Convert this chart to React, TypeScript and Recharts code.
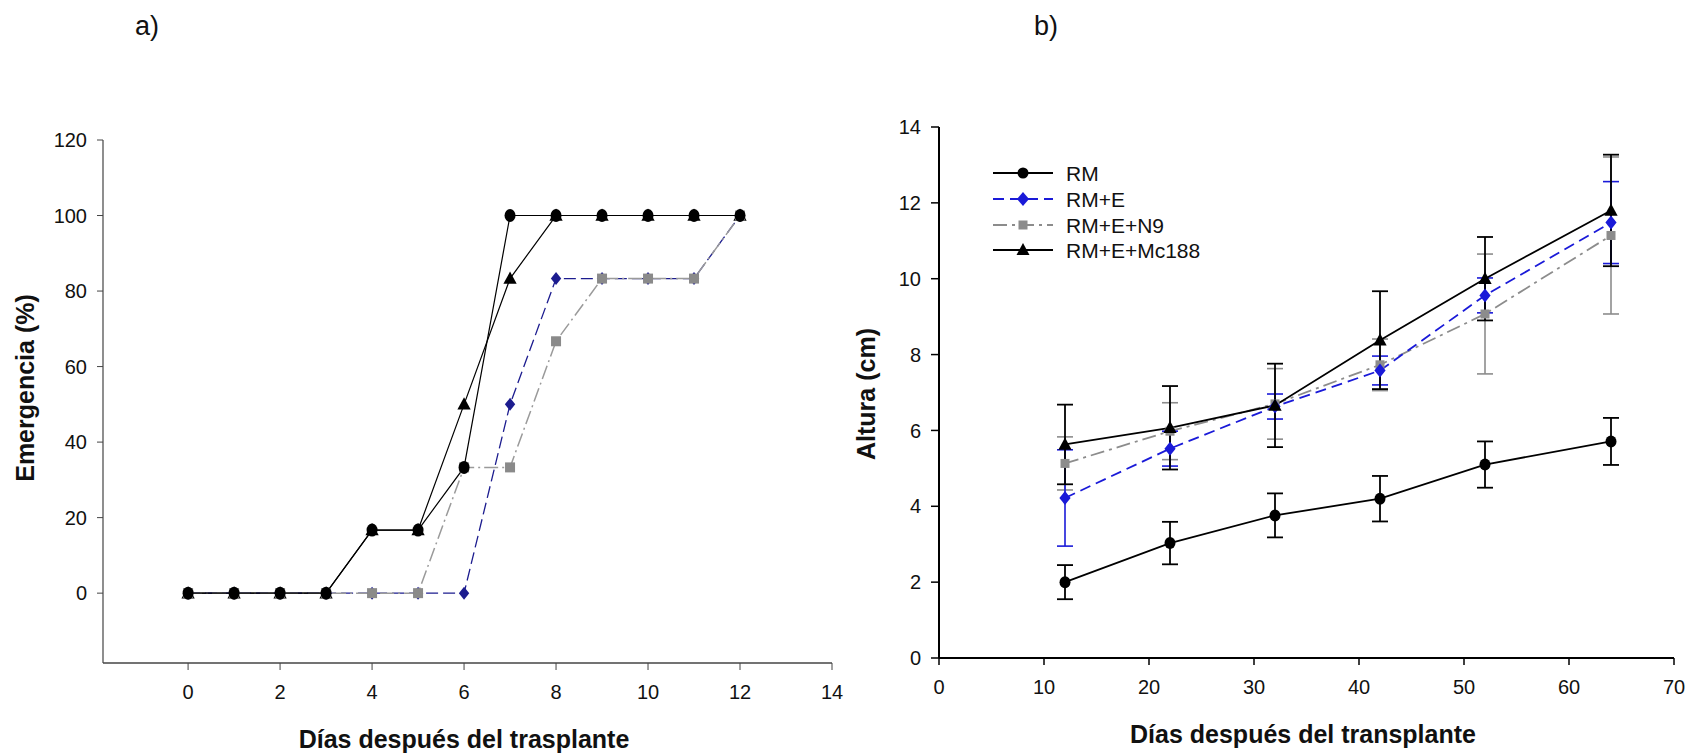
import React from 'react'
import { LineChart, Line, XAxis, YAxis, ErrorBar, Legend } from 'recharts'

const FONT = 'Arial, "Liberation Sans", Helvetica, sans-serif'

// a) emergencia (%) por día
const DAYS_A = [0, 1, 2, 3, 4, 5, 6, 7, 8, 9, 10, 11, 12]
const EM_RM = [0, 0, 0, 0, 16.7, 16.7, 33.3, 100, 100, 100, 100, 100, 100]
const EM_E = [0, 0, 0, 0, 0, 0, 0, 50, 83.3, 83.3, 83.3, 83.3, 100]
const EM_N9 = [0, 0, 0, 0, 0, 0, 33.3, 33.3, 66.7, 83.3, 83.3, 83.3, 100]
const EM_MC = [0, 0, 0, 0, 16.7, 16.7, 50, 83.3, 100, 100, 100, 100, 100]
const TICKS_AX = [0, 2, 4, 6, 8, 10, 12, 14]
const TICKS_AY = [0, 20, 40, 60, 80, 100, 120]

// b) altura (cm) con error
const DAYS_B = [12, 22, 32, 42, 52, 64]
const H_RM = [2.0, 3.03, 3.76, 4.2, 5.1, 5.71]
const ERR_RM = [0.45, 0.56, 0.58, 0.6, 0.61, 0.62]
const H_E = [4.22, 5.52, 6.63, 7.58, 9.56, 11.48]
const ERR_E = [1.27, 0.46, 0.33, 0.38, 0.46, 1.08]
const H_N9 = [5.13, 5.98, 6.7, 7.73, 9.07, 11.14]
const ERR_N9 = [0.7, 0.75, 0.93, 0.68, 1.58, 2.07]
const H_MC = [5.63, 6.07, 6.66, 8.38, 10.0, 11.8]
const ERR_MC = [1.05, 1.1, 1.1, 1.29, 1.1, 1.47]
const TICKS_BX = [0, 10, 20, 30, 40, 50, 60, 70]
const TICKS_BY = [0, 2, 4, 6, 8, 10, 12, 14]

const SERIES = ['RM', 'RM+E', 'RM+E+N9', 'RM+E+Mc188']

const dataA = DAYS_A.map((d, i) => ({ day: d, rm: EM_RM[i], e: EM_E[i], n9: EM_N9[i], mc: EM_MC[i] }))
const dataB = DAYS_B.map((d, i) => ({
  day: d,
  rm: H_RM[i], rmErr: ERR_RM[i],
  e: H_E[i], eErr: ERR_E[i],
  n9: H_N9[i], n9Err: ERR_N9[i],
  mc: H_MC[i], mcErr: ERR_MC[i],
}))

const BLUE_A = '#1c1c8f'
const BLUE_B = '#1a1ad8'
const GRAY = '#8c8c8c'

type DotProps = { cx?: number; cy?: number; index?: number }

const ellipseDot = (fill: string, rx: number, ry: number) => (p: DotProps) =>
  p.cx == null ? <g key={`e${p.index}`} /> : <ellipse key={`e${p.index}`} cx={p.cx} cy={p.cy} rx={rx} ry={ry} fill={fill} />

const diamondDot = (fill: string, s: number) => (p: DotProps) => {
  if (p.cx == null || p.cy == null) return <g key={`d${p.index}`} />
  const { cx, cy } = p
  return <polygon key={`d${p.index}`} points={`${cx},${cy - s} ${cx + s * 0.8},${cy} ${cx},${cy + s} ${cx - s * 0.8},${cy}`} fill={fill} />
}

const squareDot = (fill: string, s: number) => (p: DotProps) =>
  p.cx == null || p.cy == null ? <g key={`s${p.index}`} /> : <rect key={`s${p.index}`} x={p.cx - s / 2} y={p.cy - s / 2} width={s} height={s} fill={fill} />

const triangleDot = (fill: string, s: number) => (p: DotProps) => {
  if (p.cx == null || p.cy == null) return <g key={`t${p.index}`} />
  const { cx, cy } = p
  return <polygon key={`t${p.index}`} points={`${cx},${cy - s} ${cx + s * 0.95},${cy + s * 0.75} ${cx - s * 0.95},${cy + s * 0.75}`} fill={fill} />
}

const tickStyle = { fontFamily: FONT, fontSize: 20, fill: '#111' }

function LegendB() {
  const rows = [
    { stroke: '#000', dash: undefined, mark: (x: number, y: number) => <circle cx={x} cy={y} r={5.5} fill="#000" /> },
    { stroke: BLUE_B, dash: '11 6', mark: (x: number, y: number) => <polygon points={`${x},${y - 7} ${x + 6},${y} ${x},${y + 7} ${x - 6},${y}`} fill={BLUE_B} /> },
    { stroke: GRAY, dash: '14 5 3 5', mark: (x: number, y: number) => <rect x={x - 4.5} y={y - 4.5} width={9} height={9} fill={GRAY} /> },
    { stroke: '#000', dash: undefined, mark: (x: number, y: number) => <polygon points={`${x},${y - 7} ${x + 6.5},${y + 5} ${x - 6.5},${y + 5}`} fill="#000" /> },
  ]
  const ys = [14, 40, 66, 91]
  return (
    <svg width={260} height={104}>
      {rows.map((r, i) => (
        <g key={SERIES[i]}>
          <line x1={2} x2={62} y1={ys[i]} y2={ys[i]} stroke={r.stroke} strokeWidth={2} strokeDasharray={r.dash} />
          {r.mark(32, ys[i])}
          <text x={75} y={ys[i] + 7.5} fontFamily={FONT} fontSize={21} fill="#111">{SERIES[i]}</text>
        </g>
      ))}
    </svg>
  )
}

function Txt({ x, y, size, bold, rotate, children }: { x: number; y: number; size: number; bold?: boolean; rotate?: boolean; children: React.ReactNode }) {
  return (
    <div style={{
      position: 'absolute', left: x, top: y, whiteSpace: 'nowrap',
      transform: `translate(-50%, -50%)${rotate ? ' rotate(-90deg)' : ''}`,
      fontFamily: FONT, fontSize: size, fontWeight: bold ? 700 : 400, color: '#111', lineHeight: 1,
    }}>{children}</div>
  )
}

export default function App() {
  return (
    <div style={{ position: 'absolute', left: 0, top: 0, width: 1698, height: 754, background: '#fff', overflow: 'hidden' }}>
      <div style={{ position: 'absolute', left: 0, top: 0 }}>
        <LineChart width={850} height={754} data={dataA} margin={{ top: 140, right: 18, bottom: 51, left: 43 }}>
          <XAxis dataKey="day" type="number" domain={[-1.85, 14]} ticks={TICKS_AX} allowDataOverflow
            axisLine={{ stroke: '#444', strokeWidth: 1.5 }} tickLine={{ stroke: '#444' }} tickSize={7} tickMargin={15}
            tick={tickStyle} height={40} />
          <YAxis type="number" domain={[-18.5, 120]} ticks={TICKS_AY} allowDataOverflow
            axisLine={{ stroke: '#444', strokeWidth: 1.2 }} tickLine={{ stroke: '#444' }} tickSize={6} tickMargin={10}
            tick={tickStyle} width={60} />
          <Line dataKey="mc" name={SERIES[3]} stroke="#000" strokeWidth={1.2} dot={triangleDot('#000', 7)} isAnimationActive={false} />
          <Line dataKey="e" name={SERIES[1]} stroke={BLUE_A} strokeWidth={1.3} strokeDasharray="12 5" dot={diamondDot(BLUE_A, 6.5)} isAnimationActive={false} />
          <Line dataKey="n9" name={SERIES[2]} stroke="#9a9a9a" strokeWidth={1.5} strokeDasharray="14 4 2 4" dot={squareDot('#8a8a8a', 10)} isAnimationActive={false} />
          <Line dataKey="rm" name={SERIES[0]} stroke="#000" strokeWidth={1.2} dot={ellipseDot('#000', 5.5, 6.5)} isAnimationActive={false} />
        </LineChart>
      </div>

      <div style={{ position: 'absolute', left: 850, top: 0 }}>
        <LineChart width={848} height={754} data={dataB} margin={{ top: 127, right: 24, bottom: 56, left: 29 }}>
          <XAxis dataKey="day" type="number" domain={[0, 70]} ticks={TICKS_BX} allowDataOverflow
            axisLine={{ stroke: '#000', strokeWidth: 2 }} tickLine={{ stroke: '#000', strokeWidth: 1.5 }} tickSize={7} tickMargin={15}
            tick={tickStyle} height={40} />
          <YAxis type="number" domain={[0, 14]} ticks={TICKS_BY} allowDataOverflow
            axisLine={{ stroke: '#000', strokeWidth: 2 }} tickLine={{ stroke: '#000', strokeWidth: 1.5 }} tickSize={8} tickMargin={10}
            tick={tickStyle} width={60} />
          <Legend layout="horizontal" verticalAlign="middle" align="center" content={<LegendB />}
            wrapperStyle={{ left: 141, top: 159, width: 260, height: 104 }} />
          <Line dataKey="rm" name={SERIES[0]} stroke="#000" strokeWidth={1.8} dot={ellipseDot('#000', 5.5, 6)} isAnimationActive={false}>
            <ErrorBar dataKey="rmErr" width={8} stroke="#000" strokeWidth={1.8} direction="y" isAnimationActive={false} />
          </Line>
          <Line dataKey="n9" name={SERIES[2]} stroke={GRAY} strokeWidth={1.8} strokeDasharray="14 5 3 5" dot={squareDot(GRAY, 9)} isAnimationActive={false}>
            <ErrorBar dataKey="n9Err" width={8} stroke={GRAY} strokeWidth={1.6} direction="y" isAnimationActive={false} />
          </Line>
          <Line dataKey="e" name={SERIES[1]} stroke={BLUE_B} strokeWidth={1.8} strokeDasharray="11 6" dot={diamondDot(BLUE_B, 7)} isAnimationActive={false}>
            <ErrorBar dataKey="eErr" width={8} stroke={BLUE_B} strokeWidth={1.6} direction="y" isAnimationActive={false} />
          </Line>
          <Line dataKey="mc" name={SERIES[3]} stroke="#000" strokeWidth={1.8} dot={triangleDot('#000', 7)} isAnimationActive={false}>
            <ErrorBar dataKey="mcErr" width={8} stroke="#000" strokeWidth={1.8} direction="y" isAnimationActive={false} />
          </Line>
        </LineChart>
      </div>

      <Txt x={147} y={26} size={27}>a)</Txt>
      <Txt x={1046} y={26} size={27}>b)</Txt>
      <Txt x={25} y={388} size={25} bold rotate>Emergencia (%)</Txt>
      <Txt x={464} y={739} size={25} bold>Días después del trasplante</Txt>
      <Txt x={866} y={394} size={25} bold rotate>Altura (cm)</Txt>
      <Txt x={1303} y={734} size={25} bold>Días después del transplante</Txt>
    </div>
  )
}
